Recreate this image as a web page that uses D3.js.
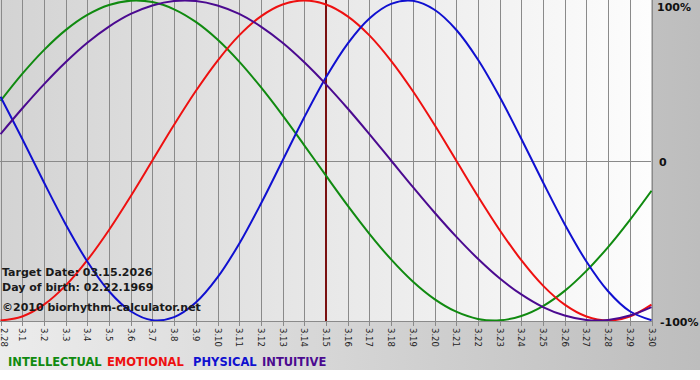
<!DOCTYPE html>
<html><head><meta charset="utf-8">
<script src="https://cdn.jsdelivr.net/npm/d3@7"></script>
<style>html,body{margin:0;padding:0;background:#fff;}svg{display:block;}</style>
</head><body>
<svg id="c" width="700" height="380"></svg>
<script>
const days = ["2.28","3.1","3.2","3.3","3.4","3.5","3.6","3.7","3.8","3.9","3.10","3.11","3.12","3.13","3.14","3.15","3.16","3.17","3.18","3.19","3.20","3.21","3.22","3.23","3.24","3.25","3.26","3.27","3.28","3.29","3.30"];
const intellectual = [0.372,0.541,0.690,0.815,0.910,0.972,0.999,0.990,0.945,0.866,0.756,0.618,0.458,0.282,0.095,-0.095,-0.282,-0.458,-0.618,-0.756,-0.866,-0.945,-0.990,-0.999,-0.972,-0.910,-0.815,-0.690,-0.541,-0.372,-0.189];
const emotional = [-1.000,-0.975,-0.901,-0.782,-0.623,-0.434,-0.223,0.000,0.223,0.434,0.623,0.782,0.901,0.975,1.000,0.975,0.901,0.782,0.623,0.434,0.223,0.000,-0.223,-0.434,-0.623,-0.782,-0.901,-0.975,-1.000,-0.975,-0.901];
const physical = [0.398,0.136,-0.136,-0.398,-0.631,-0.817,-0.942,-0.998,-0.979,-0.888,-0.731,-0.520,-0.270,0.000,0.270,0.520,0.731,0.888,0.979,0.998,0.942,0.817,0.631,0.398,0.136,-0.136,-0.398,-0.631,-0.817,-0.942,-0.998];
const intuitive = [0.165,0.325,0.476,0.614,0.736,0.837,0.916,0.969,0.997,0.997,0.969,0.916,0.837,0.736,0.614,0.476,0.325,0.165,0.000,-0.165,-0.325,-0.476,-0.614,-0.736,-0.837,-0.916,-0.969,-0.997,-0.997,-0.969,-0.916];
const seriesNames = ["INTELLECTUAL","EMOTIONAL","PHYSICAL","INTUITIVE"];
const yTicks = [1, 0, -1];
const yTickLabels = ["100%", "0", "-100%"];
const targetDay = "3.15";
const infoLines = ["Target Date: 03.15.2026", "Day of birth: 02.22.1969", "\u00A92010 biorhythm-calculator.net"];

const svg = d3.select("#c");
const W = 700, H = 380;
const plotL = 0, plotR = 651, plotT = 0, plotB = 321;
const defs = svg.append("defs");
const g1 = defs.append("linearGradient").attr("id","outerG").attr("x1","0").attr("x2","1").attr("y1","0").attr("y2","0");
g1.append("stop").attr("offset","0").attr("stop-color","#ececec");
g1.append("stop").attr("offset","1").attr("stop-color","#bdbdbd");
const g2 = defs.append("linearGradient").attr("id","plotG").attr("x1","0").attr("x2","1").attr("y1","0").attr("y2","0");
g2.append("stop").attr("offset","0").attr("stop-color","#d3d3d3");
g2.append("stop").attr("offset","1").attr("stop-color","#fdfdfd");
defs.append("clipPath").attr("id","clip").append("rect").attr("x",plotL).attr("y",plotT).attr("width",plotR-plotL+1).attr("height",plotB-plotT);

svg.append("rect").attr("x",0).attr("y",0).attr("width",W).attr("height",370).attr("fill","url(#outerG)");
svg.append("rect").attr("x",plotL).attr("y",plotT).attr("width",plotR-plotL).attr("height",plotB-plotT).attr("fill","url(#plotG)");

const x = d3.scalePoint().domain(days).range([0.5, 651.5]);
const y = d3.scaleLinear().domain([-1, 1]).range([320.5, 0.5]);

// vertical grid
svg.append("g").selectAll("line").data(days).join("line")
  .attr("x1", d => Math.round(x(d)) + 0.5).attr("x2", d => Math.round(x(d)) + 0.5)
  .attr("y1", plotT).attr("y2", plotB + 5)
  .attr("stroke", "#8a8a8a").attr("stroke-width", 1);
// zero line
svg.append("line").attr("x1", plotL).attr("x2", plotR).attr("y1", Math.round(y(0)) + 0.5).attr("y2", Math.round(y(0)) + 0.5)
  .attr("stroke", "#8a8a8a");
// bottom axis line
svg.append("line").attr("x1", plotL).attr("x2", plotR + 1).attr("y1", plotB + 0.5).attr("y2", plotB + 0.5)
  .attr("stroke", "#8a8a8a");

// target day line
svg.append("line").attr("x1", x(targetDay)).attr("x2", x(targetDay)).attr("y1", plotT).attr("y2", plotB)
  .attr("stroke", "#7a1010").attr("stroke-width", 2);

const colors = ["#108a10", "#ee1010", "#1010d0", "#4b0a90"];
const data = [intellectual, emotional, physical, intuitive];
const line = d3.line().x((v, i) => x(days[i])).y(v => y(v)).curve(d3.curveCatmullRom.alpha(0.5));
const cg = svg.append("g").attr("clip-path", "url(#clip)");
cg.selectAll("path").data(data).join("path")
  .attr("d", d => line(d)).attr("fill", "none")
  .attr("stroke", (d, i) => colors[i]).attr("stroke-width", 2);

// x tick labels
svg.append("g").selectAll("text").data(days).join("text")
  .attr("transform", d => `translate(${Math.max(1, Math.round(x(d)) - 3.5)},${plotB + 7}) rotate(90)`)
  .attr("font-family", "Verdana, 'DejaVu Sans', sans-serif").attr("font-size", 8.5)
  .attr("fill", "#222").text(d => d);

// y labels
svg.append("g").selectAll("text").data(yTicks).join("text")
  .attr("x", (d, i) => [657, 659, 660][i])
  .attr("y", d => y(d) + [10, 5, 5][yTicks.indexOf(d)])
  .attr("font-family", "Verdana, 'DejaVu Sans', sans-serif").attr("font-size", 11).attr("font-weight", "bold")
  .attr("fill", "#111").text((d, i) => yTickLabels[i]);

// info lines
svg.append("g").selectAll("text").data(infoLines).join("text")
  .attr("x", 2).attr("y", (d, i) => [276, 291, 311][i])
  .attr("font-family", "Verdana, 'DejaVu Sans', sans-serif").attr("font-size", 11).attr("font-weight", "bold")
  .attr("fill", "#1a1a1a").text(d => d);

// legend
const legX = [8, 107, 193, 262];
svg.append("g").selectAll("text").data(seriesNames).join("text")
  .attr("x", (d, i) => legX[i]).attr("y", 366)
  .attr("font-family", "Verdana, 'DejaVu Sans', sans-serif").attr("font-size", 11.5).attr("font-weight", "bold")
  .attr("fill", (d, i) => colors[i]).text(d => d);
</script>
</body></html>
